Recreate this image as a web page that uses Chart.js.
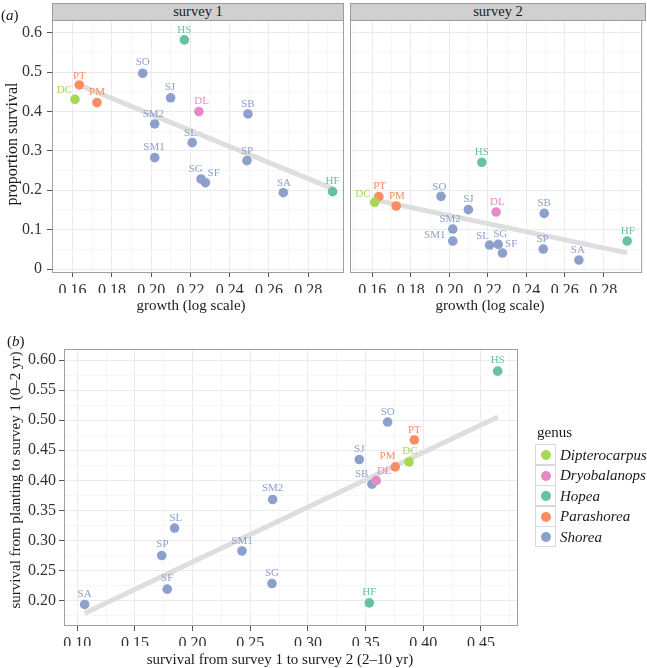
<!DOCTYPE html>
<html><head><meta charset="utf-8">
<script src="https://cdn.jsdelivr.net/npm/chart.js@4/dist/chart.umd.min.js"></script>
<style>
html,body{margin:0;padding:0;background:#fff;}
#wrap{position:relative;width:647px;height:668px;overflow:hidden;font-family:'Liberation Serif','Times New Roman',serif;color:#1a1a1a;}
canvas{position:absolute;left:0;top:0;}
.t{position:absolute;white-space:nowrap;line-height:1;}
.c{transform:translate(-50%,-50%);}
.v{transform:translate(-50%,-50%) rotate(-90deg);}
.strip{position:absolute;background:#d0d0d0;border:1px solid #9c9c9c;box-sizing:border-box;font-size:14.5px;text-align:center;line-height:15px;}
.key{position:absolute;width:21px;height:21px;box-sizing:border-box;border:1px solid #d9d9d9;background:#fff;}
.dot{position:absolute;left:5px;top:5px;width:10px;height:10px;border-radius:50%;}
</style></head>
<body><div id="wrap">
<canvas id="ca1" width="647" height="668"></canvas>
<canvas id="ca2" width="647" height="668"></canvas>
<canvas id="cb" width="647" height="668"></canvas>
<div class="t" style="left:1px;top:15px;transform:translateY(-50%);font-size:15px">(<i>a</i>)</div>
<div class="t" style="left:7px;top:341px;transform:translateY(-50%);font-size:15px">(<i>b</i>)</div>
<div class="strip" style="left:52px;top:3px;width:292px;height:18px;">survey 1</div>
<div class="strip" style="left:350px;top:3px;width:296px;height:18px;">survey 2</div>
<div class="t v" style="left:12px;top:144px;font-size:16px">proportion survival</div>
<div class="t c" style="left:191px;top:305px;font-size:15px">growth (log scale)</div>
<div class="t c" style="left:490px;top:305px;font-size:15px">growth (log scale)</div>
<div class="t v" style="left:15px;top:480px;font-size:15px">survival from planting to survey 1 (0–2 yr)</div>
<div class="t c" style="left:280px;top:659px;font-size:15px">survival from survey 1 to survey 2 (2–10 yr)</div>
<div id="legend"></div>
</div>
<script>
// ---------------- data ----------------
const species = ['DC','PT','PM','HS','SO','SJ','DL','SB','SM2','SL','SM1','SP','SG','SF','SA','HF'];
const speciesGenus = ['Dipterocarpus','Parashorea','Parashorea','Hopea','Shorea','Shorea','Dryobalanops','Shorea','Shorea','Shorea','Shorea','Shorea','Shorea','Shorea','Shorea','Hopea'];
const growth = [0.1612,0.1634,0.1724,0.2169,0.1957,0.2099,0.2243,0.2493,0.2018,0.2209,0.2018,0.2488,0.2254,0.2276,0.2673,0.2924];
const survivalSurvey1 = [0.4308,0.4672,0.4224,0.5815,0.4969,0.4346,0.3995,0.3936,0.3682,0.3208,0.2827,0.2751,0.2285,0.2192,0.1938,0.1964];
const survivalSurvey2 = [0.1693,0.1837,0.1600,0.2709,0.1845,0.1507,0.1447,0.1414,0.1016,0.0609,0.0711,0.0508,0.0626,0.0406,0.0229,0.0711];
const survival1to2 = [0.3876,0.3922,0.3757,0.4645,0.3691,0.3445,0.3592,0.3555,0.2694,0.1844,0.2428,0.1732,0.2688,0.1780,0.1064,0.3532];

const genera = ['Dipterocarpus','Dryobalanops','Hopea','Parashorea','Shorea'];
const genusColors = ['#a6d854','#e78ac3','#66c2a5','#fc8d62','#8da0cb'];

const growthTicks = [0.16,0.18,0.20,0.22,0.24,0.26,0.28];
const growthTickLabels = ['0.16','0.18','0.20','0.22','0.24','0.26','0.28'];
const propTicks = [0,0.1,0.2,0.3,0.4,0.5,0.6];
const propTickLabels = ['0','0.1','0.2','0.3','0.4','0.5','0.6'];
const bXTicks = [0.10,0.15,0.20,0.25,0.30,0.35,0.40,0.45];
const bXTickLabels = ['0.10','0.15','0.20','0.25','0.30','0.35','0.40','0.45'];
const bYTicks = [0.20,0.25,0.30,0.35,0.40,0.45,0.50,0.55,0.60];
const bYTickLabels = ['0.20','0.25','0.30','0.35','0.40','0.45','0.50','0.55','0.60'];

// label nudges (pixels, relative to point)
const nudgeA1 = {DC:[-10.7,-9.3],PT:[0,-9],PM:[0,-10],HS:[0,-9.3],SO:[0,-10.7],SJ:[-0.7,-10.7],DL:[2.7,-11],SB:[0,-10],SM2:[-1.3,-9.7],SL:[-1.7,-9.3],SM1:[-0.7,-11],SP:[0,-10],SG:[-5.3,-9.7],SF:[8.3,-10],SA:[0.7,-10],HF:[0,-10.3]};
const nudgeA2 = {DC:[-11.7,-8.3],PT:[0.7,-11],PM:[0.7,-10],HS:[0,-10.3],SO:[-1.7,-9],SJ:[0,-11],DL:[1.3,-10.3],SB:[0,-10],SM2:[-2.7,-10],SL:[-7,-9.3],SM1:[-18,-5.7],SP:[-0.7,-10],SG:[2,-10],SF:[8.7,-9.3],SA:[-1,-10],HF:[0.7,-10]};
const nudgeB = {DC:[1,-10.7],PT:[0,-10],PM:[-7.7,-10.7],HS:[0,-10.7],SO:[0,-10],SJ:[0,-10.3],DL:[8,-9.7],SB:[-10.3,-10],SM2:[0,-11],SL:[1.3,-9.7],SM1:[0,-10.3],SP:[0.7,-11],SG:[0,-10],SF:[0,-11],SA:[0,-10.7],HF:[0,-10.7]};

// ---------------- helpers ----------------
const FONT = '"Liberation Serif","Times New Roman",serif';

function fitLine(xs, ys) {
  const n = xs.length;
  const mx = xs.reduce((a,b)=>a+b,0)/n, my = ys.reduce((a,b)=>a+b,0)/n;
  let sxy = 0, sxx = 0;
  for (let i=0;i<n;i++){ sxy += (xs[i]-mx)*(ys[i]-my); sxx += (xs[i]-mx)*(xs[i]-mx); }
  const b = sxy/sxx, a = my - b*mx;
  const x0 = Math.min(...xs), x1 = Math.max(...xs);
  return [{x:x0,y:a+b*x0},{x:x1,y:a+b*x1}];
}

function tickList(major, min, max) {
  const out = major.map(v=>({value:v, major:true}));
  const step = major[1]-major[0];
  const mids = [major[0]-step/2];
  for (let i=0;i<major.length;i++) mids.push(major[i]+step/2);
  mids.forEach(v=>{ if (v>=min && v<=max) out.push({value:v, major:false}); });
  return out.sort((a,b)=>a.value-b.value);
}

function axis(o) {
  const list = tickList(o.major, o.min, o.max);
  return {
    type:'linear', position:o.pos, min:o.min, max:o.max,
    afterBuildTicks: s => { s.ticks = list.map(t=>({value:t.value, major:t.major})); },
    afterFit: s => { if (o.pos==='bottom') s.height = o.size; else s.width = o.size; },
    border:{display:false},
    grid:{
      color: c => (c.tick && c.tick.major) ? '#ebebeb' : '#f6f6f6',
      lineWidth:1,
      drawTicks:o.drawTicks,
      tickLength:o.tl || 5,
      tickWidth:1,
      tickColor: c => (c.tick && c.tick.major) ? '#555' : 'rgba(0,0,0,0)'
    },
    ticks:{
      display:o.showLabels, autoSkip:false, maxRotation:0, minRotation:0,
      padding:o.pad || 3, color:'#333', font:{family:FONT, size:16},
      callback: v => { const i = o.major.findIndex(m=>Math.abs(m-v)<1e-9); return i>=0 ? o.labels[i] : ''; }
    }
  };
}

const decor = {
  id:'decor',
  afterDatasetsDraw(chart){
    const nudge = chart.options.plugins.decor.nudge;
    const ctx = chart.ctx;
    ctx.save();
    ctx.font = '11px ' + FONT;
    ctx.textAlign = 'center';
    ctx.textBaseline = 'middle';
    chart.data.datasets.forEach((ds,di)=>{
      if (!ds.codes) return;
      const meta = chart.getDatasetMeta(di);
      meta.data.forEach((pt,i)=>{
        const code = ds.codes[i];
        const n = nudge[code] || [0,-10];
        ctx.fillStyle = ds.backgroundColor;
        ctx.fillText(code, pt.x+n[0], pt.y+n[1]);
      });
    });
    ctx.restore();
  },
  afterDraw(chart){
    const a = chart.chartArea, ctx = chart.ctx;
    ctx.save();
    ctx.strokeStyle = '#a0a0a0';
    ctx.lineWidth = 1;
    ctx.strokeRect(a.left+0.5, a.top+0.5, a.right-a.left-1, a.bottom-a.top-1);
    ctx.restore();
  }
};

function datasets(xs, ys) {
  const out = genera.map((g,gi)=>{
    const idx = species.map((s,i)=>i).filter(i=>speciesGenus[i]===g);
    return {
      label:g,
      data: idx.map(i=>({x:xs[i], y:ys[i]})),
      codes: idx.map(i=>species[i]),
      backgroundColor: genusColors[gi],
      borderWidth:0, pointRadius:4.8, pointHoverRadius:4.8, order:0
    };
  });
  out.push({
    type:'line', label:'fit', data: fitLine(xs, ys),
    borderColor:'#dedede', borderWidth:5, borderCapStyle:'butt',
    pointRadius:0, showLine:true, fill:false, order:10
  });
  return out;
}

function panel(id, xs, ys, pad, xAxis, yAxis, nudge) {
  return new Chart(document.getElementById(id), {
    type:'scatter',
    data:{datasets: datasets(xs, ys)},
    options:{
      responsive:false, animation:false, events:[],
      layout:{padding:pad},
      plugins:{legend:{display:false}, tooltip:{enabled:false}, decor:{nudge}},
      scales:{x: axis(xAxis), y: axis(yAxis)}
    },
    plugins:[decor]
  });
}

// panel (a) survey 1
panel('ca1', growth, survivalSurvey1,
  {left:0, top:20, right:303, bottom:375},
  {pos:'bottom', min:0.1495, max:0.2982, major:growthTicks, labels:growthTickLabels, size:20, drawTicks:true, tl:4, pad:4, showLabels:true},
  {pos:'left', min:-0.010, max:0.632, major:propTicks, labels:propTickLabels, size:52, drawTicks:true, tl:5, pad:5, showLabels:true},
  nudgeA1);

// panel (a) survey 2
panel('ca2', growth, survivalSurvey2,
  {left:350, top:20, right:1, bottom:375},
  {pos:'bottom', min:0.1484, max:0.3002, major:growthTicks, labels:growthTickLabels, size:20, drawTicks:true, tl:4, pad:4, showLabels:true},
  {pos:'left', min:-0.010, max:0.632, major:propTicks, labels:propTickLabels, size:0, drawTicks:false, showLabels:false},
  nudgeA2);

// panel (b)
panel('cb', survival1to2, survivalSurvey1,
  {left:0, top:349, right:129, bottom:22},
  {pos:'bottom', min:0.0885, max:0.4821, major:bXTicks, labels:bXTickLabels, size:20, drawTicks:true, tl:5, pad:3, showLabels:true},
  {pos:'left', min:0.158, max:0.6183, major:bYTicks, labels:bYTickLabels, size:64, drawTicks:true, tl:5, pad:3, showLabels:true},
  nudgeB);

// legend
(function(){
  const lg = document.getElementById('legend');
  let html = '<div class="t" style="left:537px;top:432px;transform:translateY(-50%);font-size:15px">genus</div>';
  genera.forEach((g,i)=>{
    const top = 444 + i*20.5;
    html += '<div class="key" style="left:535px;top:'+top+'px"><div class="dot" style="background:'+genusColors[i]+'"></div></div>';
    html += '<div class="t" style="left:560px;top:'+(top+10.5)+'px;transform:translateY(-50%);font-size:15px;font-style:italic">'+g+'</div>';
  });
  lg.innerHTML = html;
})();
</script>
</body></html>
